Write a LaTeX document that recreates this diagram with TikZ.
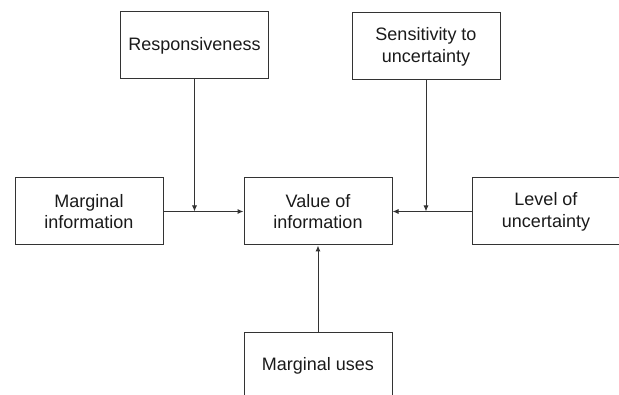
\documentclass[tikz,border=0pt]{standalone}
\usepackage{fontspec}
\setmainfont{Liberation Sans}
\usepackage{xcolor}
\usepackage{tikz}
\usetikzlibrary{positioning,calc,arrows.meta}
\definecolor{boxline}{HTML}{333333}
\definecolor{boxtext}{HTML}{1a1a1a}

\begin{document}
\begin{tikzpicture}[x=1pt, y=-1pt,
    factor/.style={draw=boxline, line width=1pt, minimum width=148pt, minimum height=67pt,
      align=center, text=boxtext, inner sep=0pt, font=\fontsize{18}{21.7}\selectfont},
    feed/.style={draw=boxline, line width=1pt, -{Latex[length=6pt, width=5pt]}}]
  % page frame, the right and bottom boxes run off the edge
  \useasboundingbox (0,0) rectangle (619,395);
  \clip (0,0) rectangle (619,395);

  % Boxes
  \node[factor] (resp) at (194.5, 45.5) {Responsiveness};
  \node[factor] (sens) at (426, 46.5) {Sensitivity to\\uncertainty};
  \node[factor] (marg) at (89, 211.5) {Marginal\\information};
  \node[factor] (value) at (318, 211.5) {Value of\\information};
  \node[factor] (level) at (546, 211.5) {Level of\\uncertainty};
  \node[factor] (uses) at (318, 366) {Marginal uses};

  % Joints on the horizontal lines
  \coordinate (jl) at (resp.south |- value.west);
  \coordinate (jr) at (sens.south |- value.east);

  % Connectors
  \draw[feed] (marg.east) -- (value.west);
  \draw[feed] (level.west) -- (value.east);
  \draw[feed] (resp.south) -- (jl);
  \draw[feed] (sens.south) -- (jr);
  \draw[feed] (uses.north) -- (value.south);
\end{tikzpicture}
\end{document}
